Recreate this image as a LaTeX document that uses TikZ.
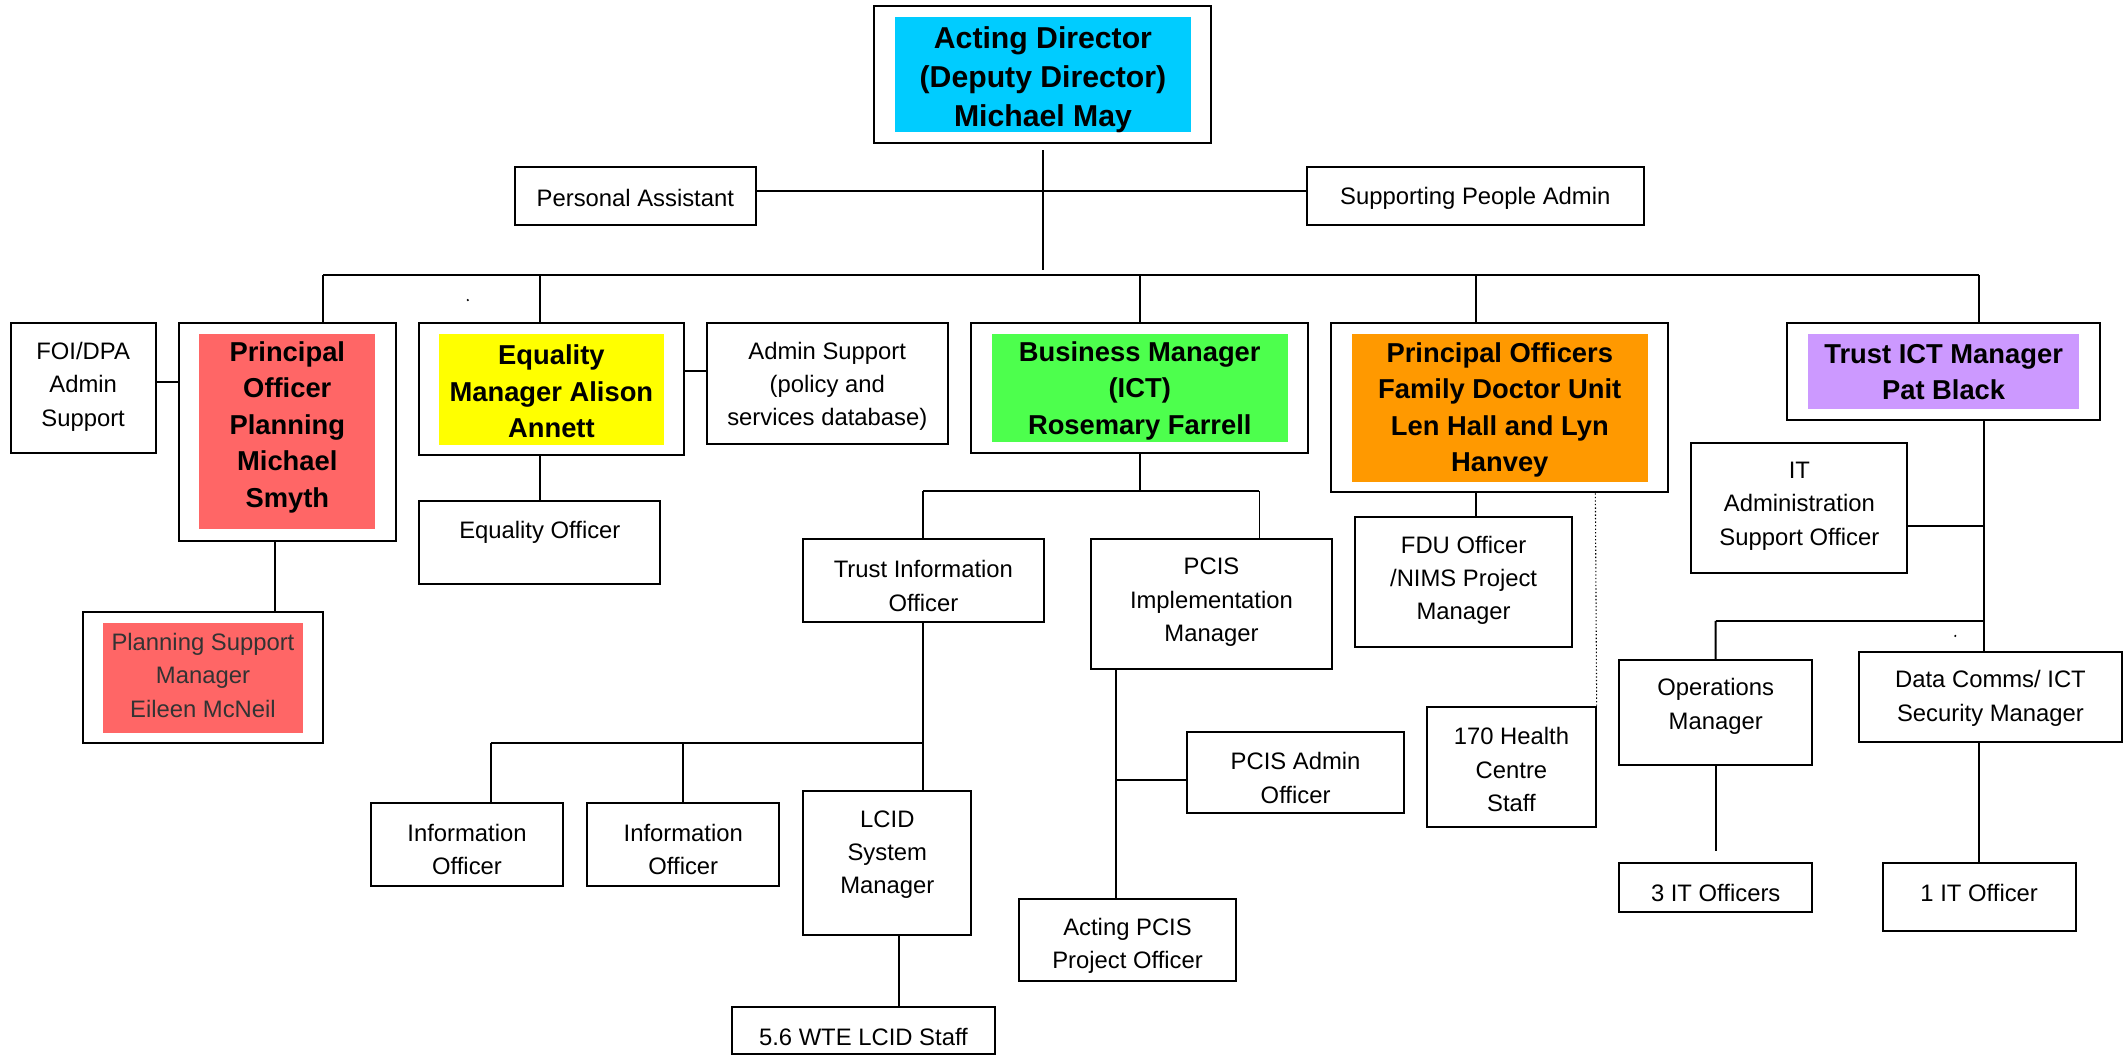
\documentclass[tikz,border=0pt]{standalone}
\usepackage{fontspec}
\setmainfont{Liberation Sans}
\definecolor{cDir}{RGB}{0,204,255}
\definecolor{cRed}{RGB}{255,102,102}
\definecolor{cYel}{RGB}{255,255,0}
\definecolor{cGrn}{RGB}{77,255,77}
\definecolor{cOrg}{RGB}{255,153,0}
\definecolor{cPur}{RGB}{204,153,255}
\definecolor{cTxt}{RGB}{51,51,51}
\begin{document}
\begin{tikzpicture}[x=1pt,y=-1pt,
  box/.style={draw, line width=1.5pt, fill=white, inner sep=0pt, rectangle},
  fillin/.style={draw=none, inner sep=0pt, rectangle, fill=#1},
  nt/.style={font=\fontsize{17.6}{24.6}\selectfont, align=center, inner sep=0pt, yshift=-1.5pt},
  bt/.style={font=\fontsize{20.2}{27}\selectfont\bfseries, align=center, inner sep=0pt, yshift=-1.5pt},
  dt/.style={font=\fontsize{22.3}{29}\selectfont\bfseries, align=center, inner sep=0pt, yshift=-1.5pt},
  ln/.style={line width=1.4pt},
  dotln/.style={line width=0.8pt, dash pattern=on 1pt off 1.6pt},
]
\useasboundingbox (0,0) rectangle (1568,779);

% ---------- director ----------
\node[box, minimum width=248.9pt, minimum height=101.2pt] (dir) at (770,54.8) {};
\node[fillin=cDir, minimum width=218.6pt, minimum height=84.9pt] (dirin) at (770.3,54.75) {};
\node[dt] (dirt) at (770.3,57.5) {Acting Director\\(Deputy Director)\\Michael May};

% ---------- PA / SPA ----------
\node[box, minimum width=177.7pt, minimum height=43.1pt] (pa) at (469.25,144.65) {};
\node[nt] (pat) at (469.25,144.65) {Personal Assistant};
\node[box, minimum width=249.2pt, minimum height=43.1pt] (spa) at (1089.6,144.65) {};
\node[nt] (spat) at (1089.6,144.65) {Supporting People Admin};

% ---------- second level ----------
\node[box, minimum width=107pt, minimum height=96pt] (foi) at (61.4,286.8) {};
\node[nt] (foit) at (61.4,284) {FOI/DPA\\Admin\\Support};

\node[box, minimum width=160.1pt, minimum height=160.5pt] (po) at (212.35,319.05) {};
\node[fillin=cRed, minimum width=130pt, minimum height=144.2pt] (poin) at (212.2,318.8) {};
\node[bt] (pot) at (212.2,313.9) {Principal\\Officer\\Planning\\Michael\\Smyth};

\node[box, minimum width=195.7pt, minimum height=97.7pt] (eq) at (407.45,287.2) {};
\node[fillin=cYel, minimum width=165.7pt, minimum height=82pt] (eqin) at (407.25,287.7) {};
\node[bt] (eqt) at (407.25,287.6) {Equality\\Manager Alison\\Annett};

\node[box, minimum width=178.2pt, minimum height=60.7pt] (eqo) at (398.7,400.65) {};
\node[nt] (eqot) at (398.7,391.5) {Equality Officer};

\node[box, minimum width=178pt, minimum height=89.1pt] (adm) at (611,283.15) {};
\node[nt] (admt) at (611,283.8) {Admin Support\\(policy and\\services database)};

\node[box, minimum width=248.9pt, minimum height=96pt] (bm) at (841.65,286.6) {};
\node[fillin=cGrn, minimum width=219pt, minimum height=79.7pt] (bmin) at (841.8,286.55) {};
\node[bt] (bmt) at (841.8,287) {Business Manager\\(ICT)\\Rosemary Farrell};

\node[box, minimum width=248.7pt, minimum height=124.8pt] (fdu) at (1107.35,301.2) {};
\node[fillin=cOrg, minimum width=218.4pt, minimum height=109pt] (fduin) at (1107.7,301.2) {};
\node[bt] (fdut) at (1107.7,301.2) {Principal Officers\\Family Doctor Unit\\Len Hall and Lyn\\Hanvey};

\node[box, minimum width=231pt, minimum height=71.4pt] (ict) at (1435.5,274.5) {};
\node[fillin=cPur, minimum width=200.4pt, minimum height=55.1pt] (ictin) at (1435.5,274.25) {};
\node[bt] (ictt) at (1435.5,273.25) {Trust ICT Manager\\Pat Black};

% ---------- lower boxes ----------
\node[box, minimum width=177.3pt, minimum height=96.8pt] (ps) at (150.15,500.1) {};
\node[fillin=cRed, minimum width=147.2pt, minimum height=81.2pt] (psin) at (149.9,500.5) {};
\node[nt, text=cTxt] (pst) at (149.9,497.3) {Planning Support\\Manager\\Eileen McNeil};

\node[box, minimum width=177.7pt, minimum height=60.9pt] (tio) at (682.05,428.75) {};
\node[nt] (tiot) at (682,431.2) {Trust Information\\Officer};

\node[box, minimum width=177.7pt, minimum height=96pt] (pim) at (894.75,446.3) {};
\node[nt] (pimt) at (894.75,443.4) {PCIS\\Implementation\\Manager};

\node[box, minimum width=141.8pt, minimum height=60.8pt] (io1) at (344.9,623.7) {};
\node[nt] (io1t) at (344.9,625.9) {Information\\Officer};
\node[box, minimum width=142.1pt, minimum height=60.8pt] (io2) at (504.65,623.7) {};
\node[nt] (io2t) at (504.65,625.9) {Information\\Officer};

\node[box, minimum width=124.3pt, minimum height=106.8pt] (lcid) at (655.35,637.4) {};
\node[nt] (lcidt) at (655.35,629.6) {LCID\\System\\Manager};

\node[box, minimum width=194.6pt, minimum height=35pt] (wte) at (637.7,761) {};
\node[nt] (wtet) at (637.7,764.4) {5.6 WTE LCID Staff};

\node[box, minimum width=160pt, minimum height=60.3pt] (pca) at (956.9,570.55) {};
\node[nt] (pcat) at (956.9,573.1) {PCIS Admin\\Officer};

\node[box, minimum width=160.3pt, minimum height=60.6pt] (apo) at (832.75,694.5) {};
\node[nt] (apot) at (832.75,697) {Acting PCIS\\Project Officer};

\node[box, minimum width=160pt, minimum height=96pt] (fduo) at (1081,429.6) {};
\node[nt] (fduot) at (1081,427.1) {FDU Officer\\/NIMS Project\\Manager};

\node[box, minimum width=124.4pt, minimum height=89.1pt] (hc) at (1116.3,566.45) {};
\node[nt] (hct) at (1116.3,567) {170 Health\\Centre\\Staff};

\node[box, minimum width=159.5pt, minimum height=96pt] (ita) at (1328.95,375.4) {};
\node[nt] (itat) at (1328.95,372.4) {IT\\Administration\\Support Officer};

\node[box, minimum width=142.3pt, minimum height=77.6pt] (ops) at (1267.15,526.2) {};
\node[nt] (opst) at (1267.15,520.1) {Operations\\Manager};

\node[box, minimum width=193.8pt, minimum height=66.4pt] (dc) at (1470.1,514.5) {};
\node[nt] (dct) at (1470.1,514.25) {Data Comms/ ICT\\Security Manager};

\node[box, minimum width=142.3pt, minimum height=35.7pt] (it3) at (1267.15,655.45) {};
\node[nt] (it3t) at (1267.15,657.8) {3 IT Officers};

\node[box, minimum width=142.5pt, minimum height=50pt] (it1) at (1461.75,662.6) {};
\node[nt] (it1t) at (1461.75,657.8) {1 IT Officer};

% ---------- connectors ----------
\coordinate (lvlL) at (238.6,203.1);
\coordinate (lvlR) at (1461.8,203.1);
\draw[ln, shorten <=5pt, shorten >=4pt] (dir.south) -- (dir.south |- lvlL);
\draw[ln] (pa.east |- 0,141.1) -- (spa.west |- 0,141.1);
\draw[ln] (lvlL) -- (lvlR);
\draw[ln] (lvlL) -- (238.6,0 |- po.north);
\draw[ln] (398.7,203.1) -- (398.7,0 |- eq.north);
\draw[ln] (841.8,203.1) -- (841.8,0 |- bm.north);
\draw[ln] (1089.9,203.1) -- (1089.9,0 |- fdu.north);
\draw[ln] (lvlR) -- (1461.8,0 |- ict.north);

\draw[ln] (foi.east |- 0,281.9) -- (po.west |- 0,281.9);
\draw[ln] (203.3,0 |- po.south) -- (203.3,0 |- ps.north);
\draw[ln] (398.7,0 |- eq.south) -- (398.7,0 |- eqo.north);
\draw[ln] (eq.east |- 0,274) -- (adm.west |- 0,274);

\coordinate (bmj) at (841.8,362.7);
\draw[ln] (841.8,0 |- bm.south) -- (bmj);
\draw[ln] (681.9,362.7) -- (930.2,362.7);
\draw[ln] (681.9,362.7) -- (681.9,0 |- tio.north);
\draw[ln] (930.2,362.7) -- (930.2,0 |- pim.north);

\draw[ln] (682,0 |- tio.south) -- (682,0 |- lcid.north);
\draw[ln] (362.4,548.5) -- (682,548.5);
\draw[ln] (362.4,548.5) -- (362.4,0 |- io1.north);
\draw[ln] (504.5,548.5) -- (504.5,0 |- io2.north);
\draw[ln] (664.1,0 |- lcid.south) -- (664.1,0 |- wte.north);

\draw[ln] (824,0 |- pim.south) -- (824,0 |- apo.north);
\draw[ln] (824,575.8) -- (pca.west |- 0,575.8);

\draw[ln] (1089.9,0 |- fdu.south) -- (1089.9,0 |- fduo.north);
\draw[dotln] (1178.3,0 |- fdu.south) -- (hc.north east);

\draw[ln] (1465.3,0 |- ict.south) -- (1465.3,0 |- dc.north);
\draw[ln] (ita.east |- 0,388.2) -- (1465.3,388.2);
\draw[ln] (1267.1,458.6) -- (1465.3,458.6);
\draw[ln] (1267.1,458.6) -- (ops.north);
\draw[ln, shorten >=8.6pt] (ops.south) -- (it3.north);
\draw[ln] (1461.8,0 |- dc.south) -- (1461.8,0 |- it1.north);

% small stray dots
\fill (345.5,221.6) circle (0.9pt);
\fill (1444.1,469.7) circle (0.9pt);
\end{tikzpicture}
\end{document}
